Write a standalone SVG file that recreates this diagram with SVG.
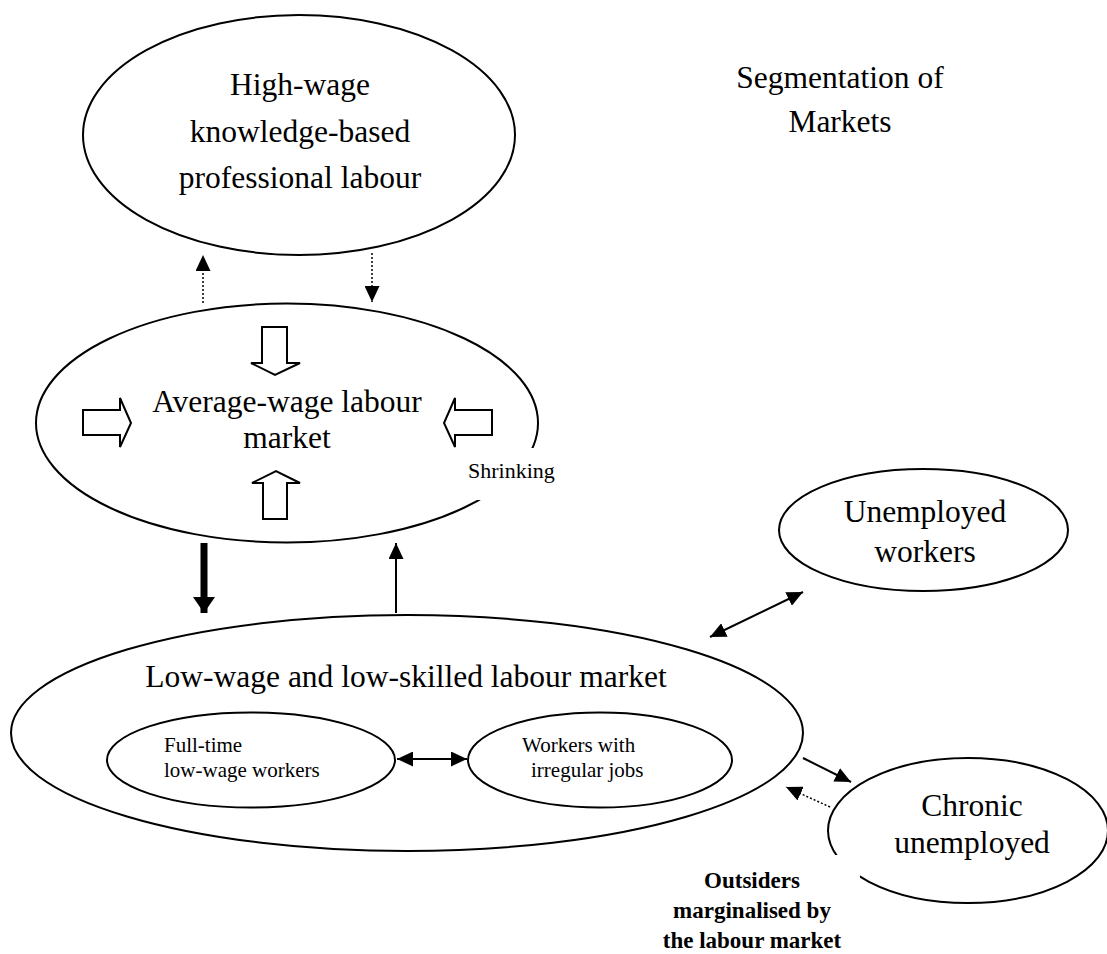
<svg xmlns="http://www.w3.org/2000/svg" width="1107" height="954" viewBox="0 0 1107 954">
<style>
.node{fill:none;stroke:#000;stroke-width:2}
.big{font-family:"Liberation Serif","Times New Roman",serif;font-size:31.5px;fill:#000}
.small{font-family:"Liberation Serif","Times New Roman",serif;font-size:21px;fill:#000}
.mid{font-family:"Liberation Serif","Times New Roman",serif;font-size:22px;fill:#000}
.bold{font-family:"Liberation Serif","Times New Roman",serif;font-size:23px;font-weight:bold;fill:#000}
.c{text-anchor:middle}
.hollow{fill:#fff;stroke:#000;stroke-width:2}
.solid{stroke:#000;stroke-width:2;fill:none}
.dot{stroke:#000;stroke-width:1.5;stroke-dasharray:2 2;fill:none}
.mask{fill:#fff;stroke:none}
</style>
<defs>
<marker id="ah" markerUnits="userSpaceOnUse" markerWidth="16" markerHeight="15" viewBox="0 0 16 15" refX="16" refY="7.5" orient="auto-start-reverse"><path d="M0,0 L16,7.5 L0,15 z" fill="#000"/></marker>
<marker id="ahThick" markerUnits="userSpaceOnUse" markerWidth="16" markerHeight="22" viewBox="0 0 16 22" refX="16" refY="11" orient="auto"><path d="M0,0 L16,11 L0,22 z" fill="#000"/></marker>
</defs>
<rect width="1107" height="954" fill="#fff"/>

<g id="title">
<text class="big c" x="840" y="88">Segmentation of</text>
<text class="big c" x="840" y="132">Markets</text>
</g>

<g id="high-wage">
<ellipse class="node" cx="299" cy="135" rx="216" ry="120"/>
<text class="big c" x="300" y="95">High-wage</text>
<text class="big c" x="300" y="142">knowledge-based</text>
<text class="big c" x="300" y="188">professional labour</text>
</g>

<g id="average-wage">
<ellipse class="node" cx="287" cy="423" rx="251" ry="119.5"/>
<rect class="mask" x="458" y="448" width="112" height="52"/>
<text class="mid" x="468" y="478">Shrinking</text>
<text class="big c" x="287" y="412">Average-wage labour</text>
<text class="big c" x="287" y="448">market</text>
<polygon class="hollow" points="262,327 287,327 287,363 300,363 275,375 251,363 262,363"/>
<polygon class="hollow" points="263,519 287,519 287,483 300,483 276,471 252,483 263,483"/>
<polygon class="hollow" points="83,410 120,410 120,398 131,423 120,447 120,435 83,435"/>
<polygon class="hollow" points="492,410 455,410 455,398 444,423 455,447 455,435 492,435"/>
</g>

<g id="low-wage">
<ellipse class="node" cx="407" cy="733" rx="396" ry="118"/>
<text class="big c" x="406" y="687">Low-wage and low-skilled labour market</text>
</g>

<g id="full-time">
<ellipse class="node" cx="251" cy="760" rx="144" ry="47.5"/>
<text class="small" x="164" y="752">Full-time</text>
<text class="small" x="164" y="777">low-wage workers</text>
</g>

<g id="irregular">
<ellipse class="node" cx="600" cy="760" rx="132" ry="47.5"/>
<text class="small" x="522" y="752">Workers with</text>
<text class="small" x="531" y="777">irregular jobs</text>
</g>

<g id="unemployed">
<ellipse class="node" cx="923.5" cy="530" rx="144.5" ry="61"/>
<text class="big c" x="925" y="522">Unemployed</text>
<text class="big c" x="925" y="562">workers</text>
</g>

<g id="chronic">
<ellipse class="node" cx="968" cy="830.5" rx="140" ry="72.5"/>
<text class="big c" x="972" y="816">Chronic</text>
<text class="big c" x="972" y="853">unemployed</text>
</g>

<g id="outsiders">
<rect class="mask" x="640" y="855" width="220" height="99"/>
<text class="bold c" x="752" y="888">Outsiders</text>
<text class="bold c" x="752" y="918">marginalised by</text>
<text class="bold c" x="752" y="948">the labour market</text>
</g>

<g id="connectors">
<line class="dot" x1="203" y1="303" x2="203" y2="255" marker-end="url(#ah)"/>
<line class="dot" x1="372" y1="253" x2="372" y2="302" marker-end="url(#ah)"/>
<line x1="204" y1="543" x2="204" y2="613" stroke="#000" stroke-width="7" marker-end="url(#ahThick)"/>
<line class="solid" x1="396" y1="613" x2="396" y2="543" stroke-width="2.5" marker-end="url(#ah)"/>
<line class="solid" x1="710" y1="637" x2="803" y2="592" marker-start="url(#ah)" marker-end="url(#ah)"/>
<line class="solid" x1="397" y1="759" x2="467" y2="759" marker-start="url(#ah)" marker-end="url(#ah)"/>
<line class="solid" x1="803" y1="758" x2="851" y2="782" marker-end="url(#ah)"/>
<line class="dot" x1="830" y1="807" x2="786" y2="787" marker-end="url(#ah)"/>
</g>
</svg>
